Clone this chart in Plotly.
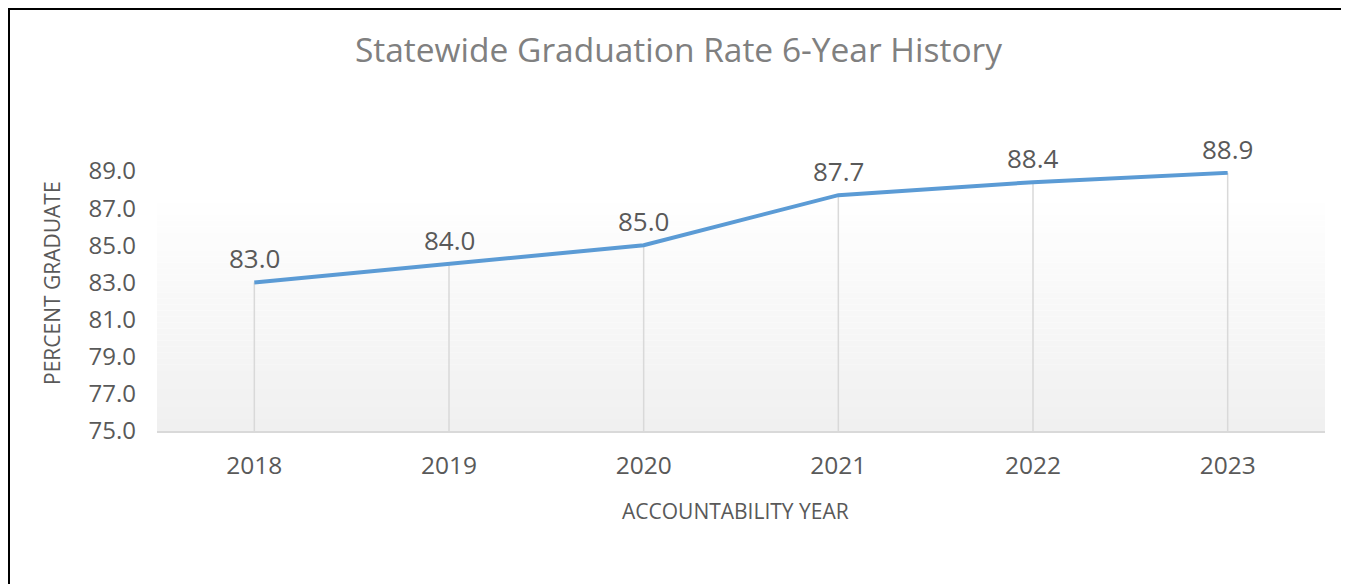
import plotly.graph_objects as go

years = ["2018", "2019", "2020", "2021", "2022", "2023"]
rates = [83.0, 84.0, 85.0, 87.7, 88.4, 88.9]
y_ticks = [75, 77, 79, 81, 83, 85, 87, 89]

# page body has an 8px offset; figure coords = screen coords - 8
OFF = 8
W, H = 1341, 576
L = 157 - OFF
R = W - (1325 - OFF)
T = 171 - OFF
B = H - (431 - OFF)
Y_MIN, Y_MAX = 75, 89
GRAD_TOP = 87.95

FONT = "Open Sans"
TXT = "#595959"


def px(xs):
    """screen x -> paper x"""
    return (xs - OFF - L) / (W - L - R)


def py(ys):
    """screen y -> paper y"""
    return (H - B - (ys - OFF)) / (H - T - B)


fig = go.Figure()

# drop lines
dx, dy = [], []
for yr, v in zip(years, rates):
    dx += [yr, yr, None]
    dy += [v, Y_MIN, None]
fig.add_trace(go.Scatter(x=dx, y=dy, mode="lines",
                         line=dict(color="#d9d9d9", width=1.5),
                         hoverinfo="skip", showlegend=False))

fig.add_trace(go.Scatter(
    x=years, y=rates, mode="lines",
    line=dict(color="#5b9bd5", width=4),
    cliponaxis=False, showlegend=False))

annotations = []
for i, v in enumerate(rates):
    # category axis: annotation x uses the category's serial index
    annotations.append(dict(x=i, y=v, xref="x", yref="y", text=f"{v:.1f}",
                            showarrow=False, yanchor="middle", yshift=24,
                            font=dict(family=FONT, size=26, color=TXT)))
annotations.append(dict(text="ACCOUNTABILITY YEAR", xref="paper", yref="paper",
                        x=px(735.5), y=py(511), xanchor="center", yanchor="middle",
                        showarrow=False,
                        font=dict(family=FONT, size=21, color=TXT)))
annotations.append(dict(text="PERCENT GRADUATE", xref="paper", yref="paper",
                        x=px(52), y=py(283), xanchor="center", yanchor="middle",
                        textangle=-90, showarrow=False,
                        font=dict(family=FONT, size=21, color=TXT)))

# gradient background
shapes = []
n = 40
for i in range(n):
    y0 = Y_MIN + (GRAD_TOP - Y_MIN) * i / n
    y1 = Y_MIN + (GRAD_TOP - Y_MIN) * (i + 1) / n
    t = i / (n - 1)
    c = int(round(240 + (255 - 240) * t))
    shapes.append(dict(type="rect", xref="x", yref="y", x0=-0.5, x1=5.5,
                       y0=y0, y1=y1, fillcolor=f"rgb({c},{c},{c})",
                       line=dict(width=0), layer="below"))

# outer border
shapes.append(dict(type="rect", xref="paper", yref="paper",
                   x0=px(9), x1=px(1342), y0=py(640), y1=py(9),
                   line=dict(color="black", width=2), fillcolor="rgba(0,0,0,0)"))

fig.update_layout(
    width=W, height=H,
    margin=dict(l=L, r=R, t=T, b=B),
    paper_bgcolor="white", plot_bgcolor="white",
    shapes=shapes, annotations=annotations,
    title=dict(text="Statewide Graduation Rate 6-Year History",
               x=(678.5 - OFF) / W, xanchor="center", y=1 - 42 / H, yanchor="middle",
               font=dict(family=FONT, size=33.5, color="#808080")),
    xaxis=dict(type="category", range=[-0.5, 5.5], showgrid=False,
               showline=True, linecolor="#d9d9d9", linewidth=2,
               ticks="", ticklabelstandoff=12,
               tickfont=dict(family=FONT, size=24.5, color=TXT)),
    yaxis=dict(range=[Y_MIN, Y_MAX], tickvals=y_ticks,
               ticktext=[f"{v:.1f}" for v in y_ticks],
               showgrid=False, zeroline=False, showline=False, ticks="",
               ticklabelstandoff=20,
               tickfont=dict(family=FONT, size=24, color=TXT)),
)

fig.write_html("out.html")
